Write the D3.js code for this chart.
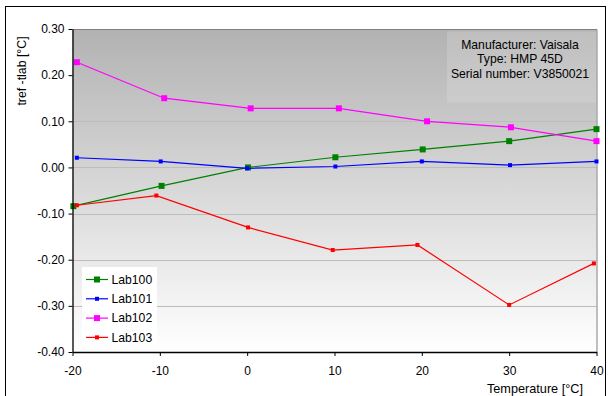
<!DOCTYPE html>
<html>
<head>
<meta charset="utf-8">
<script src="https://cdn.jsdelivr.net/npm/d3@7"></script>
<style>
  html, body { margin: 0; padding: 0; background: #fff; }
  svg { display: block; font-family: "Liberation Sans", Arial, sans-serif; }
</style>
</head>
<body>
<svg id="chart" width="608" height="396"></svg>
<script>
// Temperature points [°C] and deviation tref - tlab [°C] for each laboratory
const lab100 = [[-19.9, -0.084], [-9.8, -0.040], [0.1, 0.000], [10.1, 0.022], [20.1, 0.039], [30.0, 0.057], [40.0, 0.083]];
const lab101 = [[-19.5, 0.021], [-9.9, 0.013], [0.0, -0.002], [10.1, 0.002], [20.0, 0.013], [30.1, 0.005], [40.0, 0.013]];
const lab102 = [[-19.5, 0.228], [-9.5, 0.150], [0.4, 0.128], [10.5, 0.128], [20.6, 0.100], [30.2, 0.087], [40.0, 0.057]];
const lab103 = [[-19.5, -0.082], [-10.4, -0.061], [0.1, -0.130], [9.8, -0.179], [19.5, -0.168], [30.0, -0.298], [39.7, -0.208]];

const seriesNames = ["Lab100", "Lab101", "Lab102", "Lab103"];
const xTicks = [-20, -10, 0, 10, 20, 30, 40];
const yTicks = [-0.40, -0.30, -0.20, -0.10, 0.00, 0.10, 0.20, 0.30];
const infoLines = ["Manufacturer: Vaisala", "Type: HMP 45D", "Serial number: V3850021"];

const series = [
  { name: seriesNames[0], values: lab100, color: "#008000", size: 6 },
  { name: seriesNames[1], values: lab101, color: "#0000ff", size: 4 },
  { name: seriesNames[2], values: lab102, color: "#ff00ff", size: 6 },
  { name: seriesNames[3], values: lab103, color: "#ff0000", size: 4 }
];

const svg = d3.select("#chart");
const plotL = 72.5, plotR = 596.5, plotT = 29, plotB = 352;

const x = d3.scaleLinear().domain([-20, 40]).range([plotL, plotR]);
const y = d3.scaleLinear().domain([-0.4, 0.3]).range([plotB, plotT]);

// outer frame
svg.append("rect")
  .attr("x", 5.5).attr("y", 6.5).attr("width", 600).attr("height", 400)
  .attr("fill", "#fff").attr("stroke", "#000").attr("stroke-width", 1);

// plot background gradient
const defs = svg.append("defs");
const grad = defs.append("linearGradient").attr("id", "bg")
  .attr("x1", 0).attr("y1", 0).attr("x2", 0).attr("y2", 1);
grad.append("stop").attr("offset", "0%").attr("stop-color", "#b2b2b2");
grad.append("stop").attr("offset", "100%").attr("stop-color", "#ffffff");

svg.append("rect")
  .attr("x", plotL).attr("y", plotT)
  .attr("width", plotR - plotL).attr("height", plotB - plotT)
  .attr("fill", "url(#bg)");

// horizontal gridlines
svg.append("g").selectAll("line")
  .data(yTicks.filter(v => v > -0.4 && v < 0.3))
  .join("line")
  .attr("x1", plotL).attr("x2", plotR)
  .attr("y1", d => Math.round(y(d)) + 0.5).attr("y2", d => Math.round(y(d)) + 0.5)
  .attr("stroke", "#bdbdbd").attr("stroke-width", 1);

// gray border on top and right of the plot area
svg.append("path")
  .attr("d", `M${plotL},${plotT + 0.5}H${plotR + 0.5}V${plotB}`)
  .attr("fill", "none").attr("stroke", "#808080").attr("stroke-width", 1);

// info box
svg.append("rect")
  .attr("x", 447).attr("y", 31.5).attr("width", 149).attr("height", 71)
  .attr("fill", "#ffffff").attr("fill-opacity", 0.16);
svg.append("g").selectAll("text")
  .data(infoLines)
  .join("text")
  .attr("x", 520).attr("y", (d, i) => 48.5 + i * 14.7)
  .attr("text-anchor", "middle").attr("font-size", 12.2).attr("fill", "#000")
  .text(d => d);

// series lines and markers
const line = d3.line().x(d => x(d[0])).y(d => y(d[1]));
const gSeries = svg.append("g");
series.forEach(s => {
  gSeries.append("path")
    .attr("d", line(s.values))
    .attr("fill", "none").attr("stroke", s.color).attr("stroke-width", 1.2);
  gSeries.append("g").selectAll("rect")
    .data(s.values)
    .join("rect")
    .attr("x", d => x(d[0]) - s.size / 2).attr("y", d => y(d[1]) - s.size / 2)
    .attr("width", s.size).attr("height", s.size)
    .attr("fill", s.color);
});

// axes
const yAxis = d3.axisLeft(y).tickValues(yTicks).tickSizeInner(4).tickSizeOuter(0)
  .tickPadding(4).tickFormat(d => d.toFixed(2));
const gy = svg.append("g").attr("transform", `translate(${plotL},0)`).call(yAxis);

const xAxis = d3.axisBottom(x).tickValues(xTicks).tickSizeInner(4).tickSizeOuter(0)
  .tickPadding(10.5).tickFormat(d => String(d));
const gx = svg.append("g").attr("transform", `translate(0,${plotB})`).call(xAxis);

[gx, gy].forEach(g => {
  g.selectAll("text").attr("font-size", 12).attr("fill", "#000")
    .attr("font-family", "'Liberation Sans', Arial, sans-serif");
  g.selectAll("line").attr("stroke", "#000");
  g.select(".domain").attr("stroke", "#000").attr("stroke-width", 1.3);
});

// axis titles
svg.append("text")
  .attr("transform", "translate(25.5,71) rotate(-90)")
  .attr("text-anchor", "middle").attr("font-size", 12.3).attr("fill", "#000")
  .text("tref -tlab [°C]");
svg.append("text")
  .attr("x", 583).attr("y", 392.5)
  .attr("text-anchor", "end").attr("font-size", 12.7).attr("fill", "#000")
  .text("Temperature [°C]");

// legend
const legend = svg.append("g");
legend.append("rect")
  .attr("x", 82).attr("y", 267).attr("width", 75).attr("height", 77)
  .attr("fill", "#fff");
const items = legend.selectAll("g.item")
  .data(series)
  .join("g").attr("class", "item")
  .attr("transform", (d, i) => `translate(0,${279.5 + i * 19.3})`);
items.append("line")
  .attr("x1", 86).attr("x2", 108).attr("y1", 0).attr("y2", 0)
  .attr("stroke", d => d.color).attr("stroke-width", 1.2);
items.append("rect")
  .attr("x", d => 97 - d.size / 2).attr("y", d => -d.size / 2)
  .attr("width", d => d.size).attr("height", d => d.size)
  .attr("fill", d => d.color);
items.append("text")
  .attr("x", 111.5).attr("y", 4.3)
  .attr("font-size", 12.2).attr("fill", "#000")
  .text(d => d.name);
</script>
</body>
</html>
